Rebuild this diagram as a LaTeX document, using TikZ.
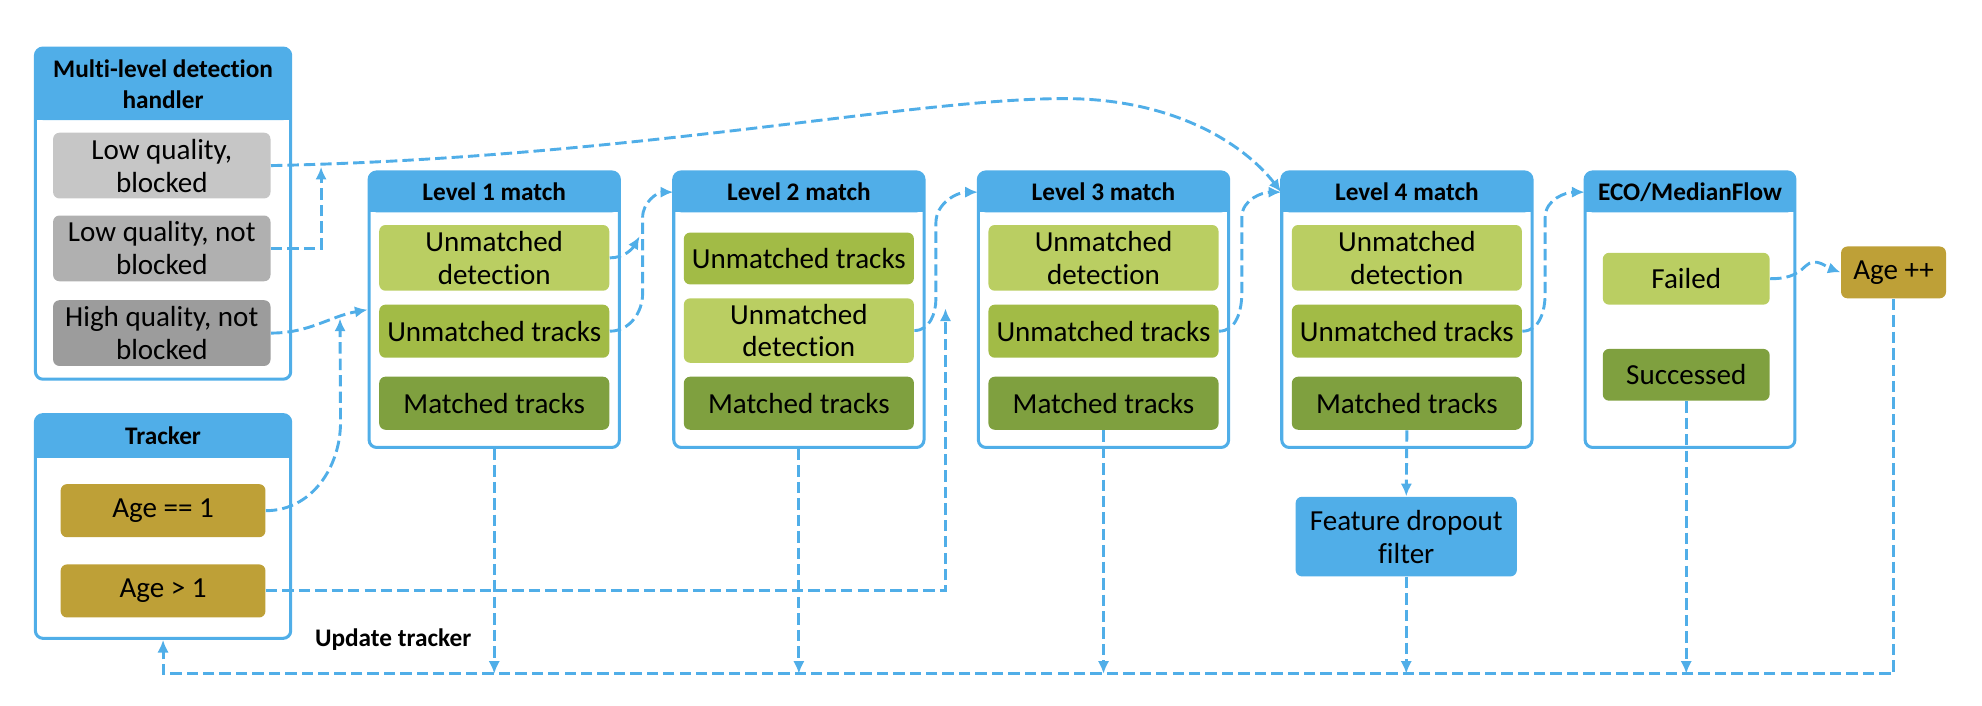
\documentclass[tikz,border=0pt]{standalone}
\usepackage{fontspec}
\setmainfont{Carlito}[Ligatures=NoCommon]
\usetikzlibrary{arrows.meta}

\definecolor{hdblue}{RGB}{80,174,232}
\definecolor{gryA}{RGB}{198,198,198}
\definecolor{gryB}{RGB}{176,176,176}
\definecolor{gryC}{RGB}{156,156,156}
\definecolor{ltgreen}{RGB}{186,206,98}
\definecolor{mdgreen}{RGB}{162,187,70}
\definecolor{dkgreen}{RGB}{127,160,63}
\definecolor{agecol}{RGB}{190,160,55}

\begin{document}
\begin{tikzpicture}[x=0.5pt, y=-0.5pt,
    frame/.style={draw=hdblue, line width=1.2pt, rounded corners=3pt, inner sep=0pt},
    head/.style={fill=hdblue, rounded corners=3pt, inner sep=0pt, align=center,
      font=\bfseries\fontsize{10}{12}\selectfont},
    item/.style={rounded corners=2.5pt, inner sep=0pt, align=center,
      font=\fontsize{11.5}{13}\selectfont, minimum width=91pt, minimum height=21pt},
    flow/.style={draw=hdblue, line width=1.15pt, dash pattern=on 4.5pt off 2pt,
      -{Latex[length=5pt,width=4.5pt]}}]

  \useasboundingbox (0,0) rectangle (1568,558);

  % detection handler and tracker
  \node[frame, minimum width=101pt, minimum height=131pt] (mlbox) at (129,169) {};
  \fill[hdblue] (28,67) rectangle (230,95);
  \node[head, minimum width=101pt, minimum height=28.5pt] (mlh) at (129,66.5) {Multi-level detection\\handler};
  \node[item, fill=gryA, minimum width=86pt, minimum height=26pt] (lqb) at (128,131) {Low quality,\\blocked};
  \node[item, fill=gryB, minimum width=86pt, minimum height=26pt] (lqn) at (128,196.5) {Low quality, not\\blocked};
  \node[item, fill=gryC, minimum width=86pt, minimum height=26pt] (hqn) at (128,263.5) {High quality, not\\blocked};

  \node[frame, minimum width=101pt, minimum height=88.5pt] (trkbox) at (129,416.5) {};
  \fill[hdblue] (28,345) rectangle (230,362);
  \node[head, minimum width=101pt, minimum height=17pt] (trkh) at (129,345) {Tracker};
  \node[item, fill=agecol, minimum width=81pt] (age1) at (129,404) {Age == 1};
  \node[item, fill=agecol, minimum width=81pt] (age2) at (129,467.5) {Age > 1};

  % matching levels
  \foreach \i/\x in {1/391,2/632,3/873,4/1113}{
    \node[frame, minimum width=99pt, minimum height=109pt] (L\i) at (\x,245) {};
    \fill[hdblue] ({\x-99},152) rectangle ({\x+99},168);
    \node[head, minimum width=99pt, minimum height=16pt] (h\i) at (\x,152) {Level \i\ match};
    \node[item, fill=dkgreen] (m\i) at (\x,319) {Matched tracks};
  }
  \node[item, fill=ltgreen, minimum height=26pt] (d1) at (391,204) {Unmatched\\detection};
  \node[item, fill=mdgreen] (t1) at (391,262) {Unmatched tracks};
  \node[item, fill=mdgreen, minimum height=20.5pt] (t2) at (632,204.5) {Unmatched tracks};
  \node[item, fill=ltgreen, minimum height=25.5pt] (d2) at (632,261.5) {Unmatched\\detection};
  \node[item, fill=ltgreen, minimum height=26pt] (d3) at (873,204) {Unmatched\\detection};
  \node[item, fill=mdgreen] (t3) at (873,262) {Unmatched tracks};
  \node[item, fill=ltgreen, minimum height=26pt] (d4) at (1113,204) {Unmatched\\detection};
  \node[item, fill=mdgreen] (t4) at (1113,262) {Unmatched tracks};

  % single object tracker
  \node[frame, minimum width=83pt, minimum height=109pt] (eco) at (1337,245) {};
  \fill[hdblue] (1254,152) rectangle (1420,168);
  \node[head, minimum width=83pt, minimum height=16pt] (he) at (1337,152) {ECO/MedianFlow};
  \node[item, fill=ltgreen, minimum width=66pt, minimum height=20.5pt] (fail) at (1334,220.5) {Failed};
  \node[item, fill=dkgreen, minimum width=66pt, minimum height=20.5pt] (suc) at (1334,296.5) {Successed};
  \node[item, fill=agecol, minimum width=41.5pt, minimum height=20.5pt] (agep) at (1498,215.5) {Age ++};

  \node[item, fill=hdblue, minimum width=87.5pt, minimum height=31.5pt] (fdf) at (1112.5,424.5) {Feature dropout\\filter};
  \node[font=\bfseries\fontsize{10}{12}\selectfont] (upd) at (311,506) {Update tracker};

  \coordinate (crest) at (842,78);
  \coordinate (j1) at (254,132);
  \coordinate (j2) at (269,252);
  \coordinate (j3) at (506,187);
  \coordinate (j4) at (748,244);
  \coordinate (bus) at (0,533);

  \draw[flow] (lqb.east) .. controls (500,125) and (720,78) .. (crest)
     .. controls (930,78) and (985,115) .. (h4.west);
  \draw[flow] (lqn.east) -| (j1);
  \draw[flow] (hqn.east) to[out=0,in=190] (L1.west);
  \draw[flow] (age1.east) to[out=0,in=-90] ++(59,-70) -- (j2);
  \draw[flow] (age2.east) -| (j4);

  \draw[flow] (d1.east) to[out=0,in=-120] (j3);
  \draw[flow] (t1.east) to[out=0,in=-90] ++(26,-30) -- ++(0,-60) to[out=90,in=180] (h2.west);
  \draw[flow] (d2.east) to[out=0,in=-90] ++(17,-25) -- ++(0,-60) to[out=90,in=180] (h3.west);
  \draw[flow] (t3.east) to[out=0,in=-90] ++(18,-30) -- ++(0,-60) to[out=90,in=180] (h4.west);
  \draw[flow] (t4.east) to[out=0,in=-90] ++(18,-30) -- ++(0,-60) to[out=90,in=180] (he.west);
  \draw[flow] (fail.east) to[out=0,in=-135] ++(28,-10) to[out=45,in=160] (agep.west);

  \draw[flow] (L1.south) -- (L1.south |- bus);
  \draw[flow] (L2.south) -- (L2.south |- bus);
  \draw[flow] (m3.south) -- (m3.south |- bus);
  \draw[flow] (m4.south) -- (fdf.north);
  \draw[flow] (fdf.south) -- (fdf.south |- bus);
  \draw[flow] (suc.south) -- (suc.south |- bus);
  \draw[flow] (agep.south) -- (agep.south |- bus) -| (trkbox.south);
\end{tikzpicture}
\end{document}
